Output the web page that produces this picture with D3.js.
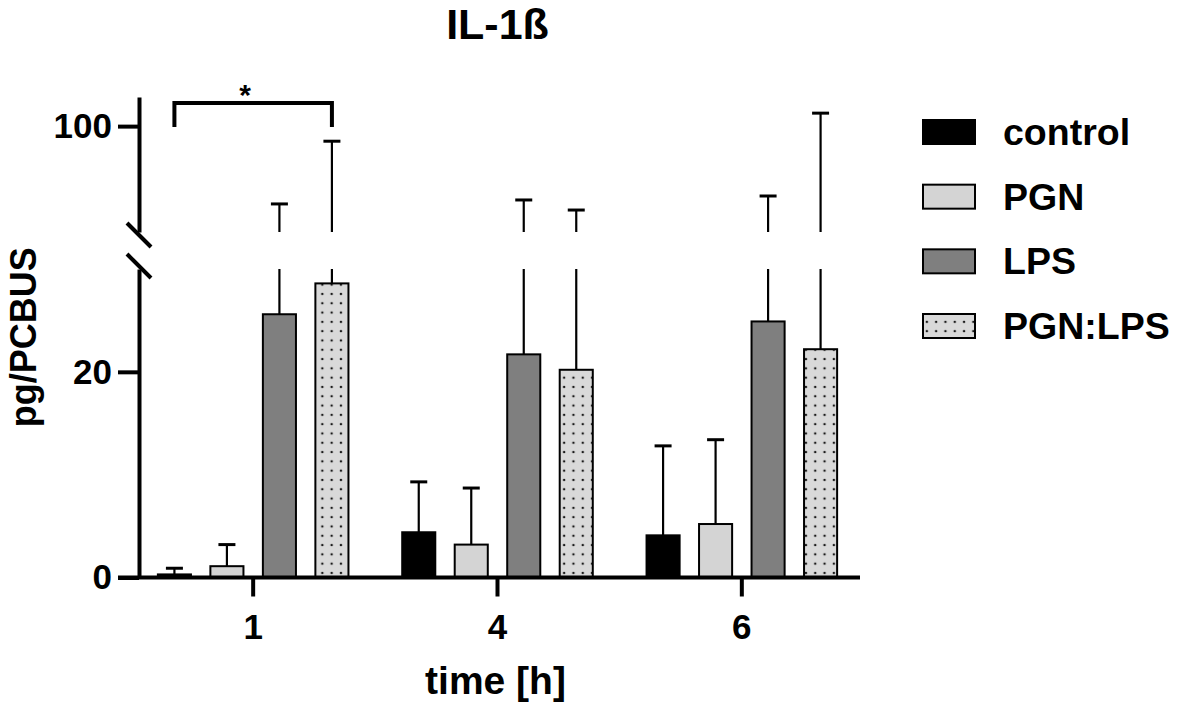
<!DOCTYPE html>
<html><head><meta charset="utf-8">
<script src="https://cdn.jsdelivr.net/npm/d3@7"></script>
<style>
body{margin:0;background:#fff}
svg{display:block}
text{font-family:"Liberation Sans",Arial,sans-serif;font-weight:bold;fill:#000}
</style>
</head><body><svg id="c" width="1181" height="704"></svg>
<script>
// ---------- data ----------
const timepoints = ['1', '4', '6'];
const series = ['control', 'PGN', 'LPS', 'PGN:LPS'];
const controlMean = [0.3, 4.4, 4.1];
const controlSD   = [0.6, 4.9, 8.7];
const pgnMean     = [1.1, 3.2, 5.2];
const pgnSD       = [2.1, 5.5, 8.2];
const lpsMean     = [25.6, 21.7, 24.9];
const lpsSD       = [45.0, 50.4, 48.7];
const pgnlpsMean  = [28.6, 20.2, 22.2];
const pgnlpsSD    = [65.7, 48.1, 82.7];
const lowerTicks = [0, 20];
const upperTicks = [100];
const lowerDomain = [0, 30];
const upperDomain = [60, 111];
const sigTime = '1', sigFrom = 'control', sigTo = 'PGN:LPS', sigLabel = '*';
const sigLevels = [99.7, 108.7]; // leg end, bracket top (data units, upper segment)
const title = 'IL-1ß', xTitle = 'time [h]', yTitle = 'pg/PCBUS';

const means = [controlMean, pgnMean, lpsMean, pgnlpsMean];
const sds = [controlSD, pgnSD, lpsSD, pgnlpsSD];
const fills = ['#000000', '#d4d4d4', '#7f7f7f', 'url(#dots)'];

// ---------- layout ----------
const svg = d3.select('#c');
const axisX = 139, baseY = 577.5;
const yLow = d3.scaleLinear().domain(lowerDomain).range([baseY, 269]);
const yUp = d3.scaleLinear().domain(upperDomain).range([232, 97]);
const x0 = d3.scaleBand().domain(timepoints).range([131, 864]).padding(0);
const x1 = d3.scaleBand().domain(series).range([-105, 105]).paddingInner(0.37).paddingOuter(0.185);
const cx = t => x0(t) + x0.bandwidth() / 2;

// pattern
const defs = svg.append('defs');
const pat = defs.append('pattern').attr('id', 'dots').attr('patternUnits', 'userSpaceOnUse')
  .attr('width', 9.3).attr('height', 9.3).attr('x', 1.5).attr('y', 1);
pat.append('rect').attr('width', 9.3).attr('height', 9.3).attr('fill', '#d9d9d9');
pat.append('circle').attr('cx', 4.65).attr('cy', 4.65).attr('r', 1.25).attr('fill', '#1a1a1a');

// ---------- error bars ----------
const gErr = svg.append('g').attr('stroke', '#000').attr('fill', 'none');
series.forEach((s, si) => {
  timepoints.forEach((t, ti) => {
    const m = means[si][ti], top = m + sds[si][ti];
    const x = cx(t) + x1(s) + x1.bandwidth() / 2;
    let capY;
    if (top <= lowerDomain[1]) {
      gErr.append('line').attr('x1', x).attr('x2', x).attr('y1', yLow(m)).attr('y2', yLow(top)).attr('stroke-width', 2.2);
      capY = yLow(top);
    } else {
      gErr.append('line').attr('x1', x).attr('x2', x).attr('y1', yLow(m)).attr('y2', yLow(lowerDomain[1])).attr('stroke-width', 2.2);
      gErr.append('line').attr('x1', x).attr('x2', x).attr('y1', yUp(upperDomain[0])).attr('y2', yUp(top)).attr('stroke-width', 2.2);
      capY = yUp(top);
    }
    gErr.append('line').attr('x1', x - 8.5).attr('x2', x + 8.5).attr('y1', capY).attr('y2', capY).attr('stroke-width', 3);
  });
});

// ---------- bars ----------
const gBars = svg.append('g');
series.forEach((s, si) => {
  gBars.selectAll(null).data(timepoints).join('rect')
    .attr('x', t => cx(t) + x1(s))
    .attr('width', x1.bandwidth())
    .attr('y', (t, ti) => yLow(means[si][ti]))
    .attr('height', (t, ti) => baseY - yLow(means[si][ti]))
    .attr('fill', fills[si])
    .attr('stroke', '#000').attr('stroke-width', 2);
});

// ---------- axes ----------
const yAxLow = svg.append('g').attr('transform', `translate(${axisX},0)`)
  .call(d3.axisLeft(yLow).tickValues(lowerTicks).tickSize(21).tickSizeOuter(0).tickPadding(6).tickFormat(d3.format('d')));
const yAxUp = svg.append('g').attr('transform', `translate(${axisX},0)`)
  .call(d3.axisLeft(yUp).tickValues(upperTicks).tickSize(21).tickSizeOuter(0).tickPadding(6).tickFormat(d3.format('d')));
[yAxLow, yAxUp].forEach(g => {
  g.attr('font-size', 35).attr('font-family', '"Liberation Sans",Arial,sans-serif').attr('font-weight', 'bold');
  g.selectAll('path,line').attr('stroke', '#000').attr('stroke-width', 4);
  g.selectAll('text').attr('fill', '#000');
});
// break marks
const gBreak = svg.append('g').attr('stroke', '#000').attr('stroke-width', 4);
[yUp(upperDomain[0]) + 3, yLow(lowerDomain[1]) - 3].forEach(yy => {
  gBreak.append('line').attr('x1', axisX - 12).attr('x2', axisX + 12).attr('y1', yy - 12).attr('y2', yy + 12);
});

const xAx = svg.append('g').attr('transform', `translate(0,${baseY})`)
  .call(d3.axisBottom(x0).tickSize(19).tickSizeOuter(0).tickPadding(18));
xAx.select('.domain').remove();
xAx.attr('font-size', 35).attr('font-family', '"Liberation Sans",Arial,sans-serif').attr('font-weight', 'bold');
xAx.selectAll('line').attr('stroke', '#000').attr('stroke-width', 4);
xAx.selectAll('text').attr('fill', '#000');
svg.append('line').attr('x1', axisX - 21).attr('x2', x0.range()[1] - 4)
  .attr('y1', baseY).attr('y2', baseY).attr('stroke', '#000').attr('stroke-width', 4);

// ---------- significance ----------
const bx1 = cx(sigTime) + x1(sigFrom) + x1.bandwidth() / 2;
const bx2 = cx(sigTime) + x1(sigTo) + x1.bandwidth() / 2;
svg.append('path')
  .attr('d', `M${bx1},${yUp(sigLevels[0])}V${yUp(sigLevels[1])}H${bx2}V${yUp(sigLevels[0])}`)
  .attr('fill', 'none').attr('stroke', '#000').attr('stroke-width', 4);
svg.append('text').attr('x', (bx1 + bx2) / 2 - 8).attr('y', yUp(sigLevels[1]) + 2)
  .attr('text-anchor', 'middle').attr('font-size', 30).text(sigLabel);

// ---------- titles ----------
svg.append('text').attr('x', cx('4')).attr('y', 39).attr('text-anchor', 'middle')
  .attr('font-size', 43).text(title);
svg.append('text').attr('x', cx('4') - 2).attr('y', 694).attr('text-anchor', 'middle')
  .attr('font-size', 39).text(xTitle);
svg.append('text').attr('transform', `translate(36,${(yLow(0) + yUp(upperDomain[1])) / 2})rotate(-90)`)
  .attr('text-anchor', 'middle').attr('font-size', 36).text(yTitle);

// ---------- legend ----------
const legY = d3.scalePoint().domain(series).range([132, 326]);
const gLeg = svg.append('g');
series.forEach((s, si) => {
  gLeg.append('rect').attr('x', 923).attr('y', legY(s) - 12).attr('width', 52).attr('height', 24)
    .attr('fill', fills[si]).attr('stroke', '#000').attr('stroke-width', 2);
  gLeg.append('text').attr('x', 1003).attr('y', legY(s) + 13).attr('font-size', 37.5).text(s);
});
</script>
</body></html>
